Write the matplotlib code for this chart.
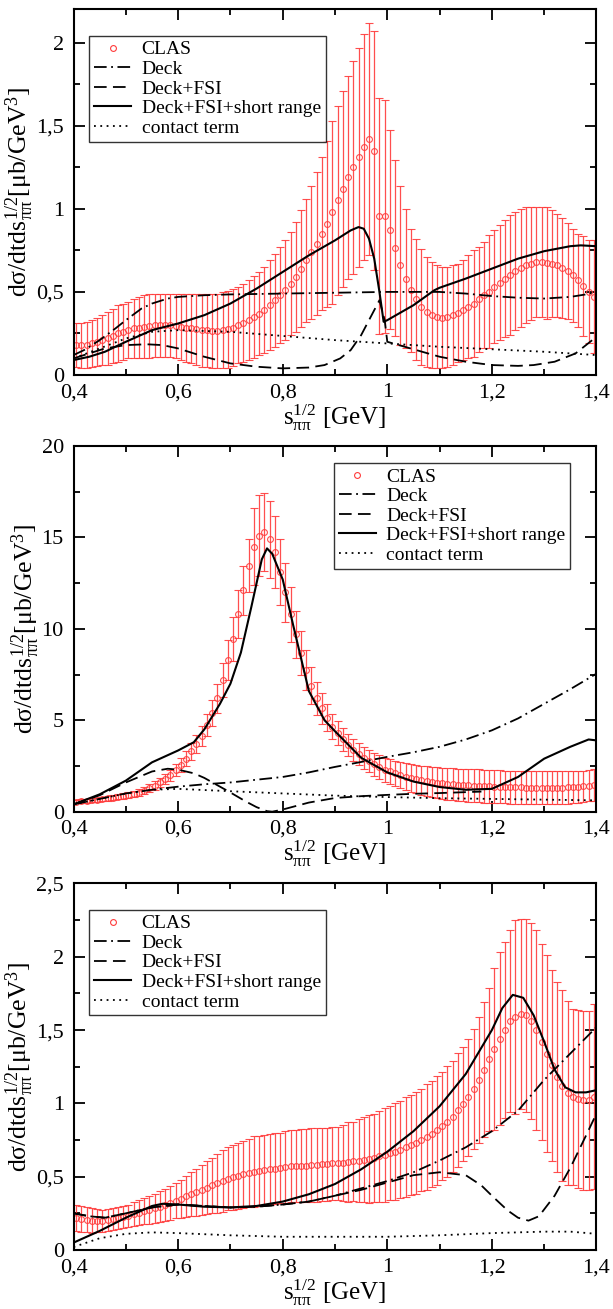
import numpy as np
import matplotlib
matplotlib.use('Agg')
import matplotlib.pyplot as plt
from matplotlib.ticker import MultipleLocator, FuncFormatter
from matplotlib.lines import Line2D

plt.rcParams['font.family'] = ['Liberation Serif', 'DejaVu Serif']
plt.rcParams['mathtext.fontset'] = 'custom'
plt.rcParams['mathtext.rm'] = 'Liberation Serif'
plt.rcParams['mathtext.it'] = 'Liberation Serif:italic'

# CLAS data: bin centres 0.405 ... 1.395 GeV
clas_x = np.round(np.arange(0.405, 1.40, 0.01), 3)

# ---- panel 1 ----
clas1_y = [0.18, 0.18, 0.18, 0.19, 0.20, 0.21, 0.22, 0.235, 0.25, 0.26,
           0.27, 0.28, 0.285, 0.29, 0.295, 0.30, 0.30, 0.30, 0.30, 0.295,
           0.29, 0.285, 0.28, 0.275, 0.27, 0.27, 0.265, 0.265, 0.27, 0.275,
           0.285, 0.30, 0.315, 0.33, 0.35, 0.37, 0.39, 0.42, 0.45, 0.48,
           0.51, 0.55, 0.59, 0.64, 0.69, 0.74, 0.79, 0.85, 0.91, 0.98,
           1.05, 1.12, 1.19, 1.25, 1.31, 1.37, 1.42, 1.35, 0.955, 0.955,
           0.875, 0.765, 0.66, 0.58, 0.51, 0.455, 0.41, 0.38, 0.36, 0.35,
           0.345, 0.35, 0.36, 0.375, 0.39, 0.41, 0.43, 0.455, 0.48, 0.50,
           0.53, 0.555, 0.58, 0.60, 0.625, 0.645, 0.66, 0.67, 0.68, 0.68,
           0.675, 0.67, 0.66, 0.645, 0.625, 0.60, 0.57, 0.535, 0.50, 0.47]
clas1_err = [0.13, 0.135, 0.14, 0.14, 0.145, 0.15, 0.16, 0.165, 0.17, 0.17,
             0.17, 0.175, 0.185, 0.19, 0.195, 0.19, 0.19, 0.19, 0.19, 0.195,
             0.20, 0.205, 0.21, 0.215, 0.22, 0.22, 0.225, 0.225, 0.23, 0.23,
             0.23, 0.23, 0.235, 0.24, 0.245, 0.25, 0.26, 0.27, 0.28, 0.29,
             0.30, 0.31, 0.33, 0.35, 0.37, 0.40, 0.43, 0.46, 0.50, 0.55,
             0.57, 0.59, 0.61, 0.64, 0.66, 0.68, 0.70, 0.72, 0.71, 0.70,
             0.60, 0.53, 0.48, 0.42, 0.37, 0.365, 0.35, 0.33, 0.32, 0.31,
             0.305, 0.30, 0.30, 0.295, 0.30, 0.31, 0.32, 0.315, 0.32, 0.34,
             0.34, 0.345, 0.35, 0.36, 0.355, 0.355, 0.35, 0.34, 0.33, 0.33,
             0.335, 0.32, 0.31, 0.30, 0.29, 0.28, 0.28, 0.30, 0.31, 0.34]

deck1_x = [0.40, 0.42, 0.45, 0.48, 0.50, 0.53, 0.55, 0.58, 0.60, 0.65, 0.70, 0.80,
           0.90, 1.00, 1.10, 1.15, 1.20, 1.25, 1.30, 1.35, 1.38, 1.40]
deck1_y = [0.12, 0.15, 0.21, 0.28, 0.33, 0.40, 0.43, 0.46, 0.47, 0.48, 0.485, 0.49,
           0.495, 0.50, 0.50, 0.49, 0.475, 0.465, 0.46, 0.47, 0.485, 0.50]
fsi1_x = [0.40, 0.43, 0.46, 0.50, 0.54, 0.57, 0.60, 0.65, 0.70, 0.75, 0.80, 0.85,
          0.88, 0.91, 0.93, 0.95, 0.97, 0.985, 0.995, 1.00, 1.05, 1.10, 1.15, 1.20,
          1.25, 1.28, 1.32, 1.36, 1.40]
fsi1_y = [0.10, 0.13, 0.16, 0.18, 0.185, 0.18, 0.16, 0.11, 0.07, 0.05, 0.04, 0.045,
          0.06, 0.10, 0.15, 0.24, 0.36, 0.45, 0.33, 0.20, 0.155, 0.11, 0.08, 0.06,
          0.055, 0.06, 0.08, 0.13, 0.23]
full1_x = [0.40, 0.43, 0.46, 0.50, 0.55, 0.60, 0.65, 0.70, 0.75, 0.80, 0.85, 0.90,
           0.93, 0.945, 0.955, 0.965, 0.975, 0.985, 0.993, 1.00, 1.05, 1.09, 1.10,
           1.15, 1.20, 1.25, 1.30, 1.35, 1.37, 1.40]
full1_y = [0.09, 0.11, 0.14, 0.20, 0.27, 0.31, 0.36, 0.43, 0.52, 0.62, 0.72, 0.81,
           0.87, 0.89, 0.88, 0.82, 0.70, 0.50, 0.32, 0.33, 0.42, 0.51, 0.525,
           0.58, 0.64, 0.70, 0.745, 0.775, 0.78, 0.775]
cont1_x = [0.40, 0.45, 0.50, 0.55, 0.60, 0.70, 0.80, 0.90, 1.00, 1.10, 1.20, 1.30, 1.40]
cont1_y = [0.10, 0.16, 0.22, 0.26, 0.27, 0.26, 0.235, 0.21, 0.19, 0.17, 0.155, 0.14, 0.12]

# ---- panel 2 ----
clas2_y = [0.55, 0.58, 0.6, 0.63, 0.66, 0.7, 0.73, 0.77, 0.81, 0.85,
           0.9, 0.95, 1.04, 1.15, 1.28, 1.42, 1.6, 1.77, 2.0, 2.3,
           2.55, 2.9, 3.3, 3.7, 4.15, 4.75, 5.4, 6.2, 7.2, 8.3,
           9.45, 10.8, 12.1, 13.45, 14.5, 15.1, 15.3, 14.9, 14.2, 13.1,
           12.0, 10.8, 9.7, 8.7, 7.75, 6.9, 6.2, 5.65, 5.15, 4.65,
           4.3, 3.95, 3.65, 3.4, 3.15, 2.95, 2.75, 2.6, 2.45, 2.3,
           2.2, 2.1, 2.0, 1.92, 1.85, 1.78, 1.72, 1.67, 1.62, 1.58,
           1.55, 1.52, 1.5, 1.48, 1.46, 1.44, 1.42, 1.41, 1.4, 1.38,
           1.37, 1.36, 1.35, 1.34, 1.33, 1.33, 1.32, 1.32, 1.31, 1.31,
           1.31, 1.31, 1.31, 1.32, 1.33, 1.34, 1.36, 1.39, 1.42, 1.46]
clas2_err = [0.1, 0.1, 0.1, 0.11, 0.11, 0.12, 0.12, 0.13, 0.14, 0.15,
             0.16, 0.17, 0.18, 0.2, 0.22, 0.24, 0.26, 0.28, 0.3, 0.33,
             0.36, 0.4, 0.45, 0.5, 0.55, 0.6, 0.7, 0.8, 0.95, 1.1,
             1.2, 1.3, 1.35, 1.45, 2.1, 2.2, 2.15, 2.1, 1.95, 1.8,
             1.6, 1.5, 1.3, 1.2, 1.1, 1.0, 0.9, 0.85, 0.75, 0.7,
             0.66, 0.63, 0.61, 0.6, 0.6, 0.6, 0.6, 0.62, 0.64, 0.66,
             0.68, 0.7, 0.72, 0.74, 0.76, 0.78, 0.8, 0.82, 0.84, 0.85,
             0.86, 0.87, 0.88, 0.88, 0.89, 0.9, 0.9, 0.9, 0.9, 0.9,
             0.9, 0.9, 0.9, 0.9, 0.9, 0.9, 0.9, 0.9, 0.9, 0.9,
             0.9, 0.9, 0.9, 0.9, 0.9, 0.88, 0.87, 0.86, 0.85, 0.85]

deck2_x = [0.40, 0.45, 0.50, 0.55, 0.60, 0.65, 0.70, 0.75, 0.80, 0.85, 0.90, 0.95,
           1.00, 1.05, 1.10, 1.15, 1.20, 1.25, 1.30, 1.35, 1.40]
deck2_y = [0.4, 0.7, 1.0, 1.2, 1.37, 1.5, 1.6, 1.75, 1.9, 2.15, 2.45, 2.72,
           3.0, 3.25, 3.55, 3.95, 4.45, 5.1, 5.9, 6.7, 7.55]
fsi2_x = [0.40, 0.45, 0.50, 0.55, 0.58, 0.60, 0.63, 0.65, 0.70, 0.73, 0.75, 0.77,
          0.78, 0.80, 0.85, 0.90, 0.95, 1.00, 1.05, 1.10, 1.15, 1.18]
fsi2_y = [0.4, 0.9, 1.6, 2.2, 2.35, 2.3, 2.1, 1.85, 1.05, 0.55, 0.25, 0.03,
          0.0, 0.12, 0.5, 0.75, 0.85, 0.92, 0.98, 1.02, 1.07, 1.1]
full2_x = [0.40, 0.45, 0.50, 0.55, 0.60, 0.63, 0.65, 0.68, 0.70, 0.72, 0.74, 0.76,
           0.77, 0.78, 0.80, 0.82, 0.85, 0.88, 0.90, 0.95, 1.00, 1.05, 1.10, 1.15,
           1.20, 1.25, 1.30, 1.35, 1.385, 1.40]
full2_y = [0.4, 0.95, 1.7, 2.7, 3.35, 3.8, 4.5, 5.9, 7.0, 8.7, 11.2, 13.8,
           14.4, 14.1, 12.7, 10.2, 6.6, 5.0, 4.4, 2.95, 2.15, 1.65, 1.35, 1.2,
           1.25, 1.9, 2.9, 3.55, 3.95, 3.9]
cont2_x = [0.40, 0.45, 0.50, 0.55, 0.60, 0.70, 0.80, 0.90, 1.00, 1.10, 1.20, 1.30, 1.40]
cont2_y = [0.4, 0.7, 1.0, 1.2, 1.25, 1.12, 1.0, 0.88, 0.8, 0.74, 0.7, 0.66, 0.62]

# ---- panel 3 ----
clas3_y = [0.22, 0.21, 0.205, 0.20, 0.20, 0.20, 0.205, 0.21, 0.215, 0.225,
           0.235, 0.245, 0.255, 0.265, 0.275, 0.285, 0.295, 0.305, 0.32, 0.335,
           0.35, 0.365, 0.38, 0.395, 0.41, 0.425, 0.44, 0.455, 0.47, 0.485,
           0.495, 0.505, 0.515, 0.525, 0.535, 0.54, 0.545, 0.55, 0.555, 0.56,
           0.565, 0.57, 0.57, 0.575, 0.575, 0.58, 0.58, 0.585, 0.585,
           0.59, 0.59, 0.595, 0.60, 0.605, 0.61, 0.615, 0.62, 0.63, 0.64,
           0.65, 0.66, 0.67, 0.685, 0.70, 0.715, 0.73, 0.75, 0.77, 0.79,
           0.815, 0.845, 0.875, 0.91,
           0.955, 0.995, 1.04, 1.10, 1.16, 1.23, 1.30, 1.37, 1.44, 1.50,
           1.56, 1.59, 1.61, 1.60, 1.56, 1.50, 1.42, 1.34, 1.26, 1.18,
           1.12, 1.07, 1.045, 1.03, 1.02, 1.02, 1.045]
clas3_err = [0.09, 0.09, 0.085, 0.085, 0.08, 0.075, 0.075, 0.075, 0.075, 0.075,
             0.075, 0.08, 0.085, 0.09, 0.095, 0.10, 0.105, 0.11, 0.115, 0.12,
             0.13, 0.14, 0.15, 0.16, 0.17, 0.18, 0.19, 0.20, 0.21, 0.215,
             0.22, 0.225, 0.23, 0.235, 0.24, 0.24, 0.24, 0.24, 0.24, 0.24,
             0.245, 0.245, 0.245, 0.25, 0.25, 0.25, 0.25, 0.25, 0.25,
             0.25, 0.25, 0.26, 0.27, 0.27, 0.28, 0.29, 0.30, 0.30, 0.31,
             0.32, 0.32, 0.33, 0.33, 0.34, 0.34, 0.35, 0.35, 0.36, 0.36,
             0.37, 0.37, 0.38, 0.38, 0.39, 0.39, 0.40, 0.41,
             0.43, 0.46, 0.49, 0.55, 0.59, 0.60, 0.62, 0.66, 0.65, 0.66,
             0.67, 0.68, 0.67, 0.67, 0.65, 0.65, 0.65, 0.63, 0.60, 0.61,
             0.61, 0.61, 0.63]

deck3_x = [0.40, 0.43, 0.46, 0.50, 0.55, 0.60, 0.65, 0.70, 0.75, 0.80, 0.85, 0.90,
           0.95, 1.00, 1.05, 1.10, 1.15, 1.20, 1.25, 1.30, 1.35, 1.40]
deck3_y = [0.25, 0.23, 0.22, 0.25, 0.29, 0.31, 0.30, 0.29, 0.295, 0.31, 0.33, 0.37,
           0.42, 0.47, 0.53, 0.61, 0.70, 0.81, 0.95, 1.16, 1.34, 1.52]
fsi3_x = [0.40, 0.43, 0.46, 0.50, 0.55, 0.60, 0.65, 0.70, 0.75, 0.80, 0.85, 0.90,
          0.95, 1.00, 1.05, 1.10, 1.15, 1.18, 1.20, 1.23, 1.25, 1.27, 1.29, 1.32,
          1.35, 1.38, 1.40]
fsi3_y = [0.25, 0.23, 0.22, 0.25, 0.29, 0.31, 0.30, 0.29, 0.295, 0.31, 0.33, 0.37,
          0.41, 0.46, 0.51, 0.53, 0.51, 0.44, 0.37, 0.27, 0.22, 0.20, 0.23, 0.37,
          0.56, 0.78, 0.93]
full3_x = [0.40, 0.45, 0.50, 0.55, 0.57, 0.60, 0.65, 0.70, 0.75, 0.80, 0.85, 0.90,
           0.95, 1.00, 1.05, 1.10, 1.15, 1.20, 1.22, 1.24, 1.26, 1.28, 1.30, 1.32,
           1.34, 1.36, 1.38, 1.40]
full3_y = [0.05, 0.13, 0.22, 0.30, 0.315, 0.31, 0.295, 0.29, 0.30, 0.33, 0.38, 0.45,
           0.55, 0.67, 0.81, 0.98, 1.20, 1.50, 1.65, 1.74, 1.72, 1.60, 1.42, 1.23,
           1.11, 1.075, 1.075, 1.09]
cont3_x = [0.40, 0.45, 0.50, 0.55, 0.60, 0.70, 0.80, 0.90, 1.00, 1.10, 1.20, 1.30, 1.35, 1.40]
cont3_y = [0.02, 0.08, 0.11, 0.12, 0.115, 0.10, 0.09, 0.09, 0.09, 0.10, 0.115, 0.125, 0.125, 0.11]

legend_labels = ['CLAS', 'Deck', 'Deck+FSI', 'Deck+FSI+short range', 'contact term']

RED = '#ff3b3b'


def comma(v, pos):  # decimal comma like the original
    return ('%g' % v).replace('.', ',')


def draw_panel(ax, clas_y, clas_err, deck, fsi, full, cont, ymax, ymaj, legend_at):
    ax.errorbar(clas_x, clas_y, yerr=clas_err, fmt='o', ms=4.2, mfc='none',
                mec=RED, mew=0.8, ecolor=RED, elinewidth=0.9, capsize=2.6,
                capthick=0.9, alpha=0.9, zorder=2)
    h_deck, = ax.plot(*deck, color='k', lw=1.3, ls=(0, (7, 2.5, 1, 2.5)), zorder=3)
    h_fsi, = ax.plot(*fsi, color='k', lw=1.3, ls=(0, (7, 3.5)), zorder=3)
    h_full, = ax.plot(*full, color='k', lw=1.5, ls='-', zorder=3)
    h_cont, = ax.plot(*cont, color='k', lw=1.3, ls=(0, (1, 2.5)), zorder=3)
    h_clas = Line2D([], [], ls='none', marker='o', ms=4.2, mfc='none', mec=RED, mew=0.8)

    ax.set_xlim(0.4, 1.4)
    ax.set_ylim(0, ymax)
    ax.xaxis.set_major_locator(MultipleLocator(0.2))
    ax.xaxis.set_minor_locator(MultipleLocator(0.1))
    ax.yaxis.set_major_locator(MultipleLocator(ymaj))
    ax.yaxis.set_minor_locator(MultipleLocator(ymaj / 2))
    ax.xaxis.set_major_formatter(FuncFormatter(comma))
    ax.yaxis.set_major_formatter(FuncFormatter(comma))
    ax.tick_params(which='both', direction='in', top=True, right=True, width=1.3)
    ax.tick_params(which='major', length=8, labelsize=16)
    ax.tick_params(axis='x', which='major', pad=6)
    ax.tick_params(axis='y', which='major', pad=7)
    ax.tick_params(which='minor', length=4)
    for sp in ax.spines.values():
        sp.set_linewidth(1.5)

    ax.set_xlabel(r'$\mathrm{s}_{\mathrm{ππ}}^{\mathrm{1/2}}$ [GeV]', fontsize=18, labelpad=0)
    ax.set_ylabel(r'd$\mathrm{σ}$/dtds$_{\mathrm{ππ}}^{\mathrm{1/2}}$[$\mathrm{μ}$b/GeV$^{\mathrm{3}}$]',
                  fontsize=18.5, labelpad=0)

    leg = ax.legend([h_clas, h_deck, h_fsi, h_full, h_cont], legend_labels,
                    loc='upper left', bbox_to_anchor=legend_at, borderaxespad=0,
                    fontsize=14, frameon=True, fancybox=False, edgecolor='k',
                    handlelength=1.9, handletextpad=0.55, labelspacing=0.1,
                    borderpad=0.25)
    leg.get_frame().set_linewidth(1.0)


fig = plt.figure(figsize=(6.13, 13.09), dpi=100)
ax1 = fig.add_axes([0.12, 0.7135, 0.853, 0.2794])
ax2 = fig.add_axes([0.12, 0.3799, 0.853, 0.2794])
ax3 = fig.add_axes([0.12, 0.0451, 0.853, 0.2800])

draw_panel(ax1, clas1_y, clas1_err, (deck1_x, deck1_y), (fsi1_x, fsi1_y),
           (full1_x, full1_y), (cont1_x, cont1_y), 2.2, 0.5, (0.03, 0.927))
draw_panel(ax2, clas2_y, clas2_err, (deck2_x, deck2_y), (fsi2_x, fsi2_y),
           (full2_x, full2_y), (cont2_x, cont2_y), 20, 5, (0.498, 0.953))
draw_panel(ax3, clas3_y, clas3_err, (deck3_x, deck3_y), (fsi3_x, fsi3_y),
           (full3_x, full3_y), (cont3_x, cont3_y), 2.5, 0.5, (0.03, 0.928))

fig.savefig('out.png', dpi=100)
